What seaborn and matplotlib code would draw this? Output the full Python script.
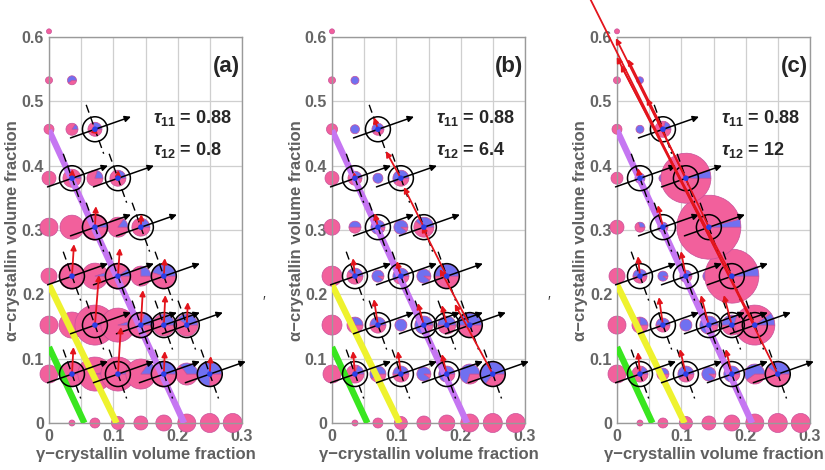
import matplotlib
matplotlib.use("Agg")
import matplotlib.pyplot as plt
import seaborn as sns
import pandas as pd
from matplotlib.patches import Wedge, Circle

# grid of compositions (gamma index i, alpha index j)
gamma_step = 0.0357
alpha_step = 0.0761
row_start = [1, 0, 0, 0, 0, 0, 0, 0, 0]   # first gamma index in each alpha row

# pie sizes (relative) and blue share for every row, per panel
a_size = [[3, 5, 6.5, 7, 8, 9, 9.5, 9.5],
          [9, 12, 17, 17, 15, 13, 11, 12],
          [9, 13, 20, 17, 13, 11, 11],
          [8, 13, 13, 13, 10, 12],
          [9, 12, 13, 10, 9],
          [7, 9, 8, 8],
          [5, 6, 7],
          [3.5, 4.5],
          [2.5]]
a_blue = [[0] * 8,
          [0, 0.03, 0.03, 0.05, 0.15, 0.3, 0.35, 0.75],
          [0, 0, 0.02, 0.05, 0.2, 0.3, 0.4],
          [0, 0, 0.05, 0.1, 0.25, 0.45],
          [0, 0, 0.05, 0.15, 0.25],
          [0, 0.05, 0.2, 0.25],
          [0, 0.15, 0.3],
          [0, 0.6],
          [0]]
b_size = [[3, 5, 6.5, 7, 8, 9, 9.5, 9.5],
          [9, 9, 8, 8, 7, 8, 10, 12],
          [10, 8, 8, 6, 9, 9, 12],
          [10, 8, 6, 8, 7, 12],
          [8, 6, 7, 7, 10],
          [7, 7, 5, 8],
          [5.5, 4.5, 6],
          [3.5, 4],
          [2.5]]
b_blue = [[0] * 8,
          [0, 0.2, 0.6, 0.5, 0.9, 0.8, 0.7, 0.65],
          [0, 0.3, 0.5, 1.0, 0.8, 0.5, 0.5],
          [0, 0.4, 0.9, 0.6, 0.9, 0.5],
          [0, 0.5, 0.9, 0.9, 0.4],
          [0, 0.4, 1.0, 0.6],
          [0, 1.0, 0.6],
          [0, 1.0],
          [0]]
c_size = [[3, 5, 6.5, 7, 8, 9, 9.5, 9.5],
          [9, 8, 6, 8, 7, 8, 10, 12],
          [9, 8, 7, 6, 9, 10, 20],
          [8, 7, 5, 6, 6, 27],
          [7, 5, 5, 4, 32],
          [6, 5, 4, 25],
          [5, 4, 8],
          [3.5, 3.5],
          [2.5]]
c_blue = [[0] * 8,
          [0, 0.2, 0.4, 0.6, 0.9, 0.8, 0.6, 0.4],
          [0, 0.25, 0.5, 1.0, 0.7, 0.5, 0.1],
          [0, 0.5, 0.9, 0.7, 0.8, 0.06],
          [0, 0.3, 0.9, 0.9, 0.04],
          [0, 1.0, 1.0, 0.05],
          [0, 1.0, 0.2],
          [0, 1.0],
          [0]]

# circled compositions
mark_i = [2, 1, 3, 2, 4, 1, 3, 5, 2, 4, 5, 6, 1, 3, 5, 7]
mark_j = [6, 5, 5, 4, 4, 3, 3, 3, 2, 2, 2, 2, 1, 1, 1, 1]

# red arrow components (reference pixels) at circled points
a_red_dx = [0.5, 0.5, 0.5, 1, 0.5, 2, 2, 1, 4, 2, 1.5, 1, 1.5, 3, 1, 1]
a_red_dy = [3, 9, 8, 21, 13, 32, 28, 18, 50, 35, 30, 23, 27, 47, 23, 18]
b_red_dx = [-4, -1, -15, -3, -20, -2, -4, -25, -4, -6, -5, -30, -2, -3, -5, -38]
b_red_dy = [12, 6, 27, 14, 40, 18, 15, 50, 26, 22, 20, 56, 23, 23, 20, 70]
c_red_dx = [-35, -2, -70, -5, -62, -2, -5, -111, -4, -8, -8, -138, -2, -6, -6, -200]
c_red_dy = [70, 10, 140, 22, 129, 20, 25, 211, 28, 30, 30, 268, 22, 25, 25, 400]

# thick boundary lines (gamma, alpha end points)
green_line = ([0.0, 0.055], [0.118, 0.0])
yellow_line = ([0.0, 0.105], [0.215, 0.0])
purple_line = ([0.0, 0.21], [0.455, 0.0])

tau11 = ["0.88", "0.88", "0.88"]
tau12 = ["0.8", "6.4", "12"]
panel_tags = ["(a)", "(b)", "(c)"]

PINK = "#f2609c"
BLUE = "#7070f0"
PX = 1 / 643.0

sns.set_theme(style="whitegrid")
plt.rcParams["font.family"] = ["Liberation Sans", "DejaVu Sans"]
plt.rcParams["mathtext.fontset"] = "custom"
plt.rcParams["mathtext.it"] = "Liberation Sans:italic:bold"
plt.rcParams["mathtext.rm"] = "Liberation Sans:bold"
plt.rcParams["mathtext.bf"] = "Liberation Sans:bold"

fig = plt.figure(figsize=(8.25, 4.7), dpi=100)
lefts = [49, 332, 617]
panels = [(a_size, a_blue, a_red_dx, a_red_dy),
          (b_size, b_blue, b_red_dx, b_red_dy),
          (c_size, c_blue, c_red_dx, c_red_dy)]

for k, (sizes, blues, rdx, rdy) in enumerate(panels):
    ax = fig.add_axes([lefts[k] / 825, 47 / 470, 193 / 825, 386 / 470])
    ax.set_xlim(0, 0.3)
    ax.set_ylim(0, 0.6)
    ax.set_xticks([0, 0.1, 0.2, 0.3])
    ax.set_xticklabels(["0", "0.1", "0.2", "0.3"])
    ax.set_xticks([0.05, 0.15, 0.25], minor=True)
    ax.set_yticks([0, 0.1, 0.2, 0.3, 0.4, 0.5, 0.6])
    ax.set_yticklabels(["0", "0.1", "0.2", "0.3", "0.4", "0.5", "0.6"])
    ax.grid(True, which="both", color="#cfcfcf", lw=0.9)
    ax.set_facecolor("white")
    for s in ax.spines.values():
        s.set_color("#9a9a9a")
        s.set_linewidth(1.0)
    ax.tick_params(labelsize=11.5, labelcolor="#666666", length=0)
    ax.tick_params(axis="x", pad=4.5)
    ax.tick_params(axis="y", pad=3.5)
    for lab in ax.get_xticklabels() + ax.get_yticklabels():
        lab.set_fontweight("bold")

    # pies
    for j, (row_s, row_b) in enumerate(zip(sizes, blues)):
        for n, (r, f) in enumerate(zip(row_s, row_b)):
            cx = (row_start[j] + n) * gamma_step
            cy = j * alpha_step
            rr = r * PX
            if f < 1:
                ax.add_patch(Wedge((cx, cy), rr, 360 * f, 360, fc=PINK, ec="#c8509a",
                                   lw=0.5, zorder=2, clip_on=False))
            if f > 0:
                ax.add_patch(Wedge((cx, cy), rr, 0, 360 * f, fc=BLUE, ec="#c8509a",
                                   lw=0.5, zorder=2, clip_on=False))

    # boundary lines
    for (xs, ys), col in [(green_line, "#39e61f"), (yellow_line, "#eef22e"),
                          (purple_line, "#c576f2")]:
        sns.lineplot(x=xs, y=ys, ax=ax, color=col, lw=4.6, sort=False,
                     solid_capstyle="butt", zorder=3)

    # circled points with arrows
    pts = pd.DataFrame({"g": [i * gamma_step for i in mark_i],
                        "a": [j * alpha_step for j in mark_j]})
    for n, (gx, ay) in enumerate(zip(pts["g"], pts["a"])):
        ax.plot([gx - 0.0136, gx + 0.0136], [ay + 0.038, ay - 0.038], color="black",
                lw=1.0, dashes=(6, 3), zorder=4)
        ax.add_patch(Circle((gx, ay), 0.0194, fill=False, ec="black", lw=1.1, zorder=5))
        ax.annotate("", xy=(gx + 0.056, ay + 0.0195), xytext=(gx - 0.038, ay - 0.0135),
                    arrowprops=dict(arrowstyle="-|>", color="black", lw=1.1,
                                    mutation_scale=9, shrinkA=0, shrinkB=0),
                    zorder=5, annotation_clip=False)
        ax.annotate("", xy=(gx + rdx[n] * PX, ay + rdy[n] * PX), xytext=(gx, ay),
                    arrowprops=dict(arrowstyle="-|>", color="#e3141c", lw=1.3,
                                    mutation_scale=8, shrinkA=0, shrinkB=0),
                    zorder=6, annotation_clip=False)
    sns.scatterplot(data=pts, x="g", y="a", ax=ax, color="#2a3ee8", s=16,
                    edgecolor="none", zorder=7, legend=False)
    ax.set_xlabel("")
    ax.set_ylabel("")

    ax.text(0.162, 0.474, r"$\tau_{11}$" + " = " + tau11[k], fontsize=13,
            fontweight="bold", va="center", zorder=8)
    ax.text(0.162, 0.425, r"$\tau_{12}$" + " = " + tau12[k], fontsize=13,
            fontweight="bold", va="center", zorder=8)
    ax.text(0.297, 0.554, panel_tags[k], fontsize=16, fontweight="bold",
            ha="right", va="center", zorder=8)

    x_mid = (lefts[k] + 96.5) / 825
    fig.text(x_mid, 0.032, "γ−crystallin volume fraction", ha="center", va="center",
             fontsize=12, fontweight="bold", color="#606060")
    fig.text((lefts[k] - 36) / 825, 0.51, "α−crystallin volume fraction", ha="center",
             va="center", rotation=90, fontsize=12, fontweight="bold", color="#606060")
    if k > 0:
        fig.text((lefts[k] - 68) / 825, 1 - 302 / 470, "′", ha="center", va="center",
                 fontsize=10, color="#333333")

fig.savefig("out.png", dpi=100)
